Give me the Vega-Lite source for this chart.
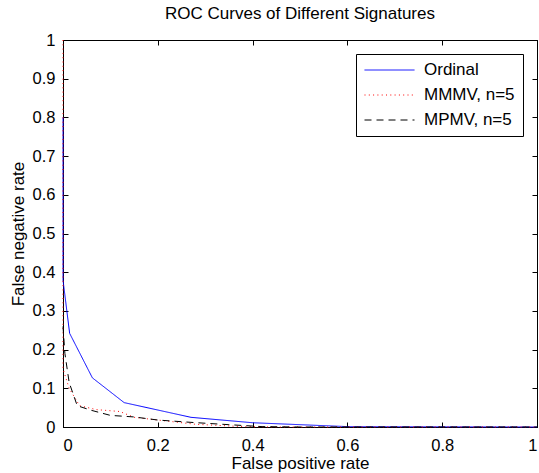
{
  "$schema": "https://vega.github.io/schema/vega-lite/v6.json",
  "width": 474,
  "height": 387,
  "autosize": "none",
  "padding": {"left": 63, "top": 40, "right": 2, "bottom": 46},
  "config": {
    "font": "Liberation Sans",
    "view": {"stroke": "black", "strokeWidth": 1},
    "axis": {
      "grid": false,
      "domainColor": "black",
      "tickColor": "black",
      "tickSize": -5,
      "labelFontSize": 16.5,
      "labelColor": "black",
      "titleFontSize": 17,
      "titleFontWeight": "normal",
      "titleColor": "black",
      "labelPadding": 13
    },
    "legend": {"labelFont": "Liberation Sans", "labelLimit": 400}
  },
  "title": {"text": "ROC Curves of Different Signatures", "fontSize": 17, "fontWeight": "normal", "color": "black", "offset": 9},
  "data": {"values": [
    {"series": "Ordinal", "i": 1, "x": 0, "y": 0.8},
    {"series": "Ordinal", "i": 2, "x": 0, "y": 0.38},
    {"series": "Ordinal", "i": 3, "x": 0.014, "y": 0.242},
    {"series": "Ordinal", "i": 4, "x": 0.062, "y": 0.127},
    {"series": "Ordinal", "i": 5, "x": 0.129, "y": 0.063},
    {"series": "Ordinal", "i": 6, "x": 0.27, "y": 0.025},
    {"series": "Ordinal", "i": 7, "x": 0.4, "y": 0.011},
    {"series": "Ordinal", "i": 8, "x": 0.6, "y": 0.001},
    {"series": "Ordinal", "i": 9, "x": 1, "y": 0},
    {"series": "MMMV, n=5", "i": 1, "x": 0, "y": 1},
    {"series": "MMMV, n=5", "i": 2, "x": 0, "y": 0.15},
    {"series": "MMMV, n=5", "i": 3, "x": 0.013, "y": 0.1},
    {"series": "MMMV, n=5", "i": 4, "x": 0.035, "y": 0.055},
    {"series": "MMMV, n=5", "i": 5, "x": 0.07, "y": 0.045},
    {"series": "MMMV, n=5", "i": 6, "x": 0.12, "y": 0.04},
    {"series": "MMMV, n=5", "i": 7, "x": 0.15, "y": 0.025},
    {"series": "MMMV, n=5", "i": 8, "x": 0.2, "y": 0.018},
    {"series": "MMMV, n=5", "i": 9, "x": 0.28, "y": 0.007},
    {"series": "MMMV, n=5", "i": 10, "x": 0.38, "y": 0.001},
    {"series": "MMMV, n=5", "i": 11, "x": 0.45, "y": 0},
    {"series": "MMMV, n=5", "i": 12, "x": 1, "y": 0},
    {"series": "MPMV, n=5", "i": 1, "x": 0, "y": 0.26},
    {"series": "MPMV, n=5", "i": 2, "x": 0.004, "y": 0.19},
    {"series": "MPMV, n=5", "i": 3, "x": 0.013, "y": 0.115},
    {"series": "MPMV, n=5", "i": 4, "x": 0.03, "y": 0.055},
    {"series": "MPMV, n=5", "i": 5, "x": 0.06, "y": 0.043},
    {"series": "MPMV, n=5", "i": 6, "x": 0.1, "y": 0.03},
    {"series": "MPMV, n=5", "i": 7, "x": 0.15, "y": 0.026},
    {"series": "MPMV, n=5", "i": 8, "x": 0.2, "y": 0.018},
    {"series": "MPMV, n=5", "i": 9, "x": 0.27, "y": 0.012},
    {"series": "MPMV, n=5", "i": 10, "x": 0.35, "y": 0.006},
    {"series": "MPMV, n=5", "i": 11, "x": 0.42, "y": 0.001},
    {"series": "MPMV, n=5", "i": 12, "x": 0.5, "y": 0},
    {"series": "MPMV, n=5", "i": 13, "x": 1, "y": 0}
  ]},
  "layer": [
    {
      "mark": {"type": "line", "strokeWidth": 1},
      "encoding": {
        "x": {"field": "x", "type": "quantitative", "scale": {"domain": [0, 1], "nice": false},
              "axis": {"orient": "bottom", "title": "False positive rate", "values": [0, 0.2, 0.4, 0.6, 0.8, 1], "format": "~g", "labelPadding": 15, "titlePadding": 2}},
        "y": {"field": "y", "type": "quantitative", "scale": {"domain": [0, 1], "nice": false},
              "axis": {"orient": "left", "title": "False negative rate", "values": [0, 0.1, 0.2, 0.3, 0.4, 0.5, 0.6, 0.7, 0.8, 0.9, 1], "format": "~g", "titlePadding": 5}},
        "order": {"field": "i", "type": "quantitative"},
        "stroke": {"field": "series", "type": "nominal",
                   "scale": {"domain": ["Ordinal", "MMMV, n=5", "MPMV, n=5"], "range": ["#0000ff", "#ff0000", "#000000"]},
                   "legend": {"title": null, "orient": "none", "legendX": 293, "legendY": 14, "strokeColor": "black", "fillColor": "white", "padding": 8, "symbolType": "stroke", "symbolSize": 2500, "clipHeight": 16, "symbolStrokeWidth": 1, "labelFontSize": 17, "labelColor": "black", "rowPadding": 8, "labelOffset": 9, "cornerRadius": 0}},
        "strokeDash": {"field": "series", "type": "nominal",
                   "scale": {"domain": ["Ordinal", "MMMV, n=5", "MPMV, n=5"], "range": [[1, 0], [1, 3.3], [7, 5]]},
                   "legend": {"title": null, "orient": "none", "legendX": 293, "legendY": 14, "strokeColor": "black", "fillColor": "white", "padding": 8, "symbolType": "stroke", "symbolSize": 2500, "clipHeight": 16, "symbolStrokeWidth": 1, "labelFontSize": 17, "labelColor": "black", "rowPadding": 8, "labelOffset": 9, "cornerRadius": 0}}
      }
    },
    {
      "mark": {"type": "point", "opacity": 0},
      "encoding": {
        "x": {"field": "x", "type": "quantitative", "scale": {"domain": [0, 1], "nice": false},
              "axis": {"orient": "top", "title": null, "labels": false, "values": [0, 0.2, 0.4, 0.6, 0.8, 1]}},
        "y": {"field": "y", "type": "quantitative", "scale": {"domain": [0, 1], "nice": false},
              "axis": {"orient": "right", "title": null, "labels": false, "values": [0, 0.1, 0.2, 0.3, 0.4, 0.5, 0.6, 0.7, 0.8, 0.9, 1]}}
      }
    }
  ],
  "resolve": {"axis": {"x": "independent", "y": "independent"}}
}
